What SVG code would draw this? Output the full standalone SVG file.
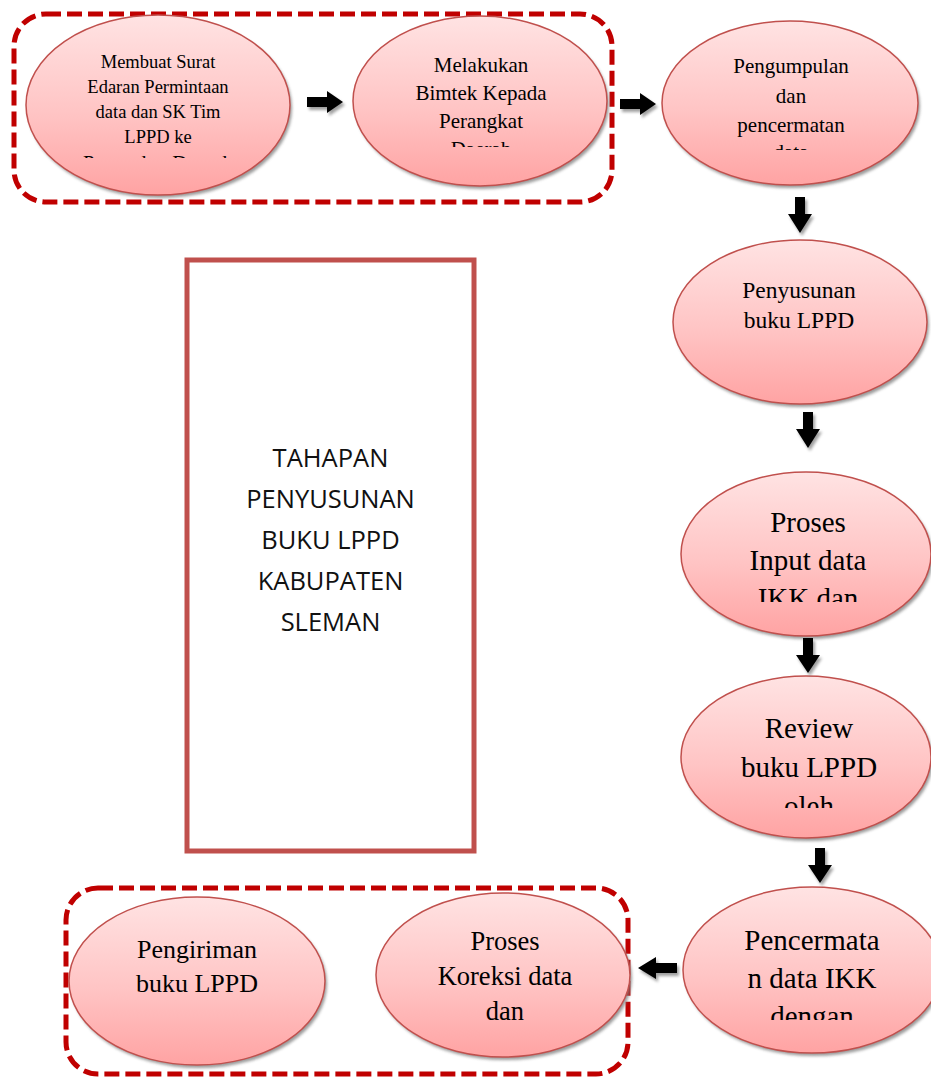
<svg xmlns="http://www.w3.org/2000/svg" width="931" height="1077" viewBox="0 0 931 1077">
<defs>
<linearGradient id="g" x1="0" y1="0" x2="0" y2="1">
<stop offset="0" stop-color="#FFE3E3"/>
<stop offset="0.55" stop-color="#FFC4C4"/>
<stop offset="1" stop-color="#FFA3A3"/>
</linearGradient>
<filter id="blur" x="-10%" y="-10%" width="120%" height="130%"><feGaussianBlur stdDeviation="1.6"/></filter>
<clipPath id="c1"><rect x="20" y="40" width="280" height="118"/></clipPath>
<clipPath id="c2"><rect x="350" y="40" width="260" height="107"/></clipPath>
<clipPath id="c3"><rect x="660" y="40" width="260" height="110"/></clipPath>
<clipPath id="c5"><rect x="680" y="500" width="251" height="102"/></clipPath>
<clipPath id="c6"><rect x="680" y="700" width="251" height="108"/></clipPath>
<clipPath id="c7"><rect x="680" y="910" width="251" height="110"/></clipPath>
</defs>
<style>
.el{fill:url(#g);stroke:#C0504D;stroke-width:1.5}
.sh{fill:#7a7a7a;opacity:0.75;filter:url(#blur)}
.t{font-family:"Liberation Serif","Times New Roman",serif;fill:#000;text-anchor:middle}
.grp{fill:none;stroke:#C00000;stroke-width:5;stroke-dasharray:15 6}
.ar{fill:#000}
.ash{fill:#777;opacity:0.7;filter:url(#blur)}
.title{font-family:"Open Sans","Liberation Sans",sans-serif;font-size:25.5px;fill:#111;text-anchor:middle}
</style>

<g id="group-top">
<rect class="grp" x="14" y="14" width="598" height="188" rx="32" ry="32"/>
</g>
<g id="group-bottom">
<rect class="grp" x="66" y="888" width="562" height="186" rx="32" ry="32"/>
</g>

<g id="title-box">
<rect x="187" y="260" width="287" height="591" fill="#fff" stroke="#C0504D" stroke-width="5"/>
<text class="title" x="330.5" y="467">TAHAPAN</text>
<text class="title" x="330.5" y="508">PENYUSUNAN</text>
<text class="title" x="330.5" y="549">BUKU LPPD</text>
<text class="title" x="330.5" y="590">KABUPATEN</text>
<text class="title" x="330.5" y="631">SLEMAN</text>
</g>

<g id="node1">
<ellipse class="sh" cx="160" cy="108" rx="132" ry="90"/>
<ellipse class="el" cx="158" cy="105" rx="132" ry="90"/>
<g class="t" font-size="18.5" clip-path="url(#c1)">
<text x="158" y="68">Membuat Surat</text>
<text x="158" y="93">Edaran Permintaan</text>
<text x="158" y="118">data dan SK Tim</text>
<text x="158" y="143">LPPD ke</text>
<text x="158" y="170" font-size="21">Perangkat Daerah</text>
</g>
</g>

<g id="node2">
<ellipse class="sh" cx="482" cy="104" rx="127" ry="85"/>
<ellipse class="el" cx="480" cy="101" rx="127" ry="85"/>
<g class="t" font-size="21" clip-path="url(#c2)">
<text x="481" y="72">Melakukan</text>
<text x="481" y="100">Bimtek Kepada</text>
<text x="481" y="128">Perangkat</text>
<text x="481" y="156">Daerah</text>
</g>
</g>

<g id="node3">
<ellipse class="sh" cx="792" cy="106" rx="128" ry="82"/>
<ellipse class="el" cx="790" cy="103" rx="128" ry="82"/>
<g class="t" font-size="21" clip-path="url(#c3)">
<text x="791" y="73">Pengumpulan</text>
<text x="791" y="103">dan</text>
<text x="791" y="132">pencermatan</text>
<text x="791" y="159">data</text>
</g>
</g>

<g id="node4">
<ellipse class="sh" cx="802" cy="325" rx="127" ry="82"/>
<ellipse class="el" cx="800" cy="322" rx="127" ry="82"/>
<g class="t" font-size="23.5">
<text x="799" y="298">Penyusunan</text>
<text x="799" y="328">buku LPPD</text>
</g>
</g>

<g id="node5">
<ellipse class="sh" cx="808" cy="557" rx="125" ry="82"/>
<ellipse class="el" cx="806" cy="554" rx="125" ry="82"/>
<g class="t" font-size="29" clip-path="url(#c5)">
<text x="808" y="532">Proses</text>
<text x="808" y="570">Input data</text>
<text x="808" y="608">IKK dan</text>
</g>
</g>

<g id="node6">
<ellipse class="sh" cx="808" cy="760" rx="125" ry="81"/>
<ellipse class="el" cx="806" cy="757" rx="125" ry="81"/>
<g class="t" font-size="29" clip-path="url(#c6)">
<text x="809" y="738">Review</text>
<text x="809" y="777">buku LPPD</text>
<text x="809" y="816">oleh</text>
</g>
</g>

<g id="node7">
<ellipse class="sh" cx="814" cy="973" rx="129" ry="83"/>
<ellipse class="el" cx="812" cy="970" rx="129" ry="83"/>
<g class="t" font-size="29" clip-path="url(#c7)">
<text x="812" y="950">Pencermata</text>
<text x="812" y="988">n data IKK</text>
<text x="812" y="1026">dengan</text>
</g>
</g>

<g id="node8">
<ellipse class="sh" cx="505" cy="978" rx="127" ry="82"/>
<ellipse class="el" cx="503" cy="975" rx="127" ry="82"/>
<g class="t" font-size="26.5">
<text x="505" y="950">Proses</text>
<text x="505" y="985">Koreksi data</text>
<text x="505" y="1020">dan</text>
</g>
</g>

<g id="node9">
<ellipse class="sh" cx="199" cy="984" rx="128" ry="84"/>
<ellipse class="el" cx="197" cy="981" rx="128" ry="84"/>
<g class="t" font-size="26">
<text x="197" y="958">Pengiriman</text>
<text x="197" y="992">buku LPPD</text>
</g>
</g>

<g id="connectors">
<g transform="translate(2,3)">
<polygon class="ash" points="307,97 327,97 327,91 343,102 327,113 327,107 307,107"/>
<polygon class="ash" points="620,99 640,99 640,93 656,104 640,115 640,109 620,109"/>
<polygon class="ash" points="795,197 805,197 805,214 812,214 800,233 788,214 795,214"/>
<polygon class="ash" points="803,412 813,412 813,429 820,429 808,448 796,429 803,429"/>
<polygon class="ash" points="803,638 813,638 813,655 820,655 808,673 796,655 803,655"/>
<polygon class="ash" points="815,848 825,848 825,865 832,865 820,883 808,865 815,865"/>
<polygon class="ash" points="677,963 656,963 656,957 638,968 656,979 656,973 677,973"/>
</g>
<polygon class="ar" points="307,97 327,97 327,91 343,102 327,113 327,107 307,107"/>
<polygon class="ar" points="620,99 640,99 640,93 656,104 640,115 640,109 620,109"/>
<polygon class="ar" points="795,197 805,197 805,214 812,214 800,233 788,214 795,214"/>
<polygon class="ar" points="803,412 813,412 813,429 820,429 808,448 796,429 803,429"/>
<polygon class="ar" points="803,638 813,638 813,655 820,655 808,673 796,655 803,655"/>
<polygon class="ar" points="815,848 825,848 825,865 832,865 820,883 808,865 815,865"/>
<polygon class="ar" points="677,963 656,963 656,957 638,968 656,979 656,973 677,973"/>
</g>
</svg>
